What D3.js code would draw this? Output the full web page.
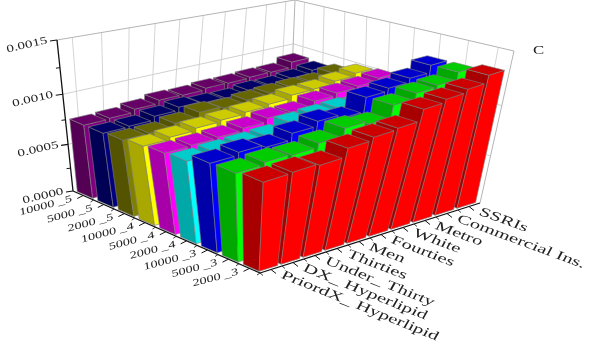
<!DOCTYPE html>
<html><head><meta charset="utf-8">
<script src="https://cdn.jsdelivr.net/npm/d3@7"></script>
<style>html,body{margin:0;padding:0;background:#fff}svg{display:block;filter:blur(.45px)}text{font-family:"Liberation Serif",serif;fill:#222}</style>
</head><body><svg id="c" width="598" height="349"></svg>
<script>
const categories=["PriordX_ Hyperlipid","DX_ Hyperlipid","Under_ Thirty","Thirties","Men","Fourties","White","Metro","Commercial Ins.","SSRIs"];
const seriesNames=["2000 _3","5000 _3","10000 _3","2000 _4","5000 _4","10000 _4","2000 _5","5000 _5","10000 _5"];
const seriesColors=["#ff0000","#00ff00","#0000ff","#00ffff","#ff00ff","#ffff00","#808000","#000080","#800080"];
const zTicks=[0,0.0005,0.0010,0.0015];
const s2000_3=[97.4,98.0,96.2,104.5,107.3,108.6,119.3,122.2,125.3,132.4];
const s5000_3=[94.4,96.7,95.5,99.5,106.5,103.6,114.8,119.9,121.5,128.1];
const s10000_3=[93.3,96.1,93.5,99.7,104.3,100.8,114.3,117.0,120.9,127.8];
const s2000_4=[85.2,86.6,87.3,88.2,94.2,95.6,96.4,95.0,97.0,99.0];
const s5000_4=[83.4,84.2,85.2,87.4,90.8,90.6,95.5,97.7,99.1,101.7];
const s10000_4=[81.1,83.2,85.5,87.0,88.7,90.7,93.9,94.3,96.9,99.7];
const s2000_5=[78.3,78.6,82.1,86.8,84.9,87.1,88.4,88.9,88.6,92.6];
const s5000_5=[76.6,77.3,81.0,84.0,82.2,81.5,84.0,83.5,85.4,88.5];
const s10000_5=[76.3,77.1,80.1,83.3,82.7,84.2,83.8,84.6,84.4,90.1];
const valueUnit=1e-5;
const seriesValues=[s2000_3,s5000_3,s10000_3,s2000_4,s5000_4,s10000_4,s2000_5,s5000_5,s10000_5];

const svg=d3.select("#c");
function quadMap(p0,p1,p2,p3){
  const dx1=p1[0]-p2[0],dx2=p3[0]-p2[0],sx=p0[0]-p1[0]+p2[0]-p3[0];
  const dy1=p1[1]-p2[1],dy2=p3[1]-p2[1],sy=p0[1]-p1[1]+p2[1]-p3[1];
  const den=dx1*dy2-dx2*dy1;
  const g=(sx*dy2-dx2*sy)/den,h=(dx1*sy-sx*dy1)/den;
  const a=p1[0]-p0[0]+g*p1[0],b=p3[0]-p0[0]+h*p3[0],c=p0[0];
  const d=p1[1]-p0[1]+g*p1[1],e=p3[1]-p0[1]+h*p3[1],f=p0[1];
  return (u,v)=>{const w=g*u+h*v+1;return [(a*u+b*v+c)/w,(d*u+e*v+f)/w];};
}
const floorMap=quadMap([260,273],[480,203],[290,122],[73,191]);
const topMap=quadMap([267,131],[514,51],[295,0],[57,40]);
const K=0.1087,A=1/(1-K)-1;
const nU=categories.length,nV=seriesNames.length,zMax=0.0015;
const uS=d3.scaleLinear().domain([0,nU]).range([0,1]);
const vS=d3.scaleLinear().domain([0,nV]).range([0,1]);
const zS=d3.scaleLinear().domain([0,zMax]).range([0,1]);
function proj(i,j,val){
  const f=floorMap(uS(i),vS(j)),t=topMap(uS(i),vS(j));
  const fr=(1/(1-K*zS(val))-1)/A;
  return [f[0]+(t[0]-f[0])*fr,f[1]+(t[1]-f[1])*fr];
}
const line=d3.line();
function seg(g,a,b,col,w){g.append("path").attr("d",line([a,b])).attr("stroke",col).attr("stroke-width",w).attr("fill","none");}
const wall=svg.append("g");
d3.range(nU).forEach(i=>seg(wall,proj(i+.5,nV,0),proj(i+.5,nV,zMax),"#d4d4d4",1));
d3.range(nV).forEach(j=>seg(wall,proj(nU,j+.5,0),proj(nU,j+.5,zMax),"#d4d4d4",1));
zTicks.slice(1,3).forEach(z=>{seg(wall,proj(0,nV,z),proj(nU,nV,z),"#d0d0d0",1);seg(wall,proj(nU,nV,z),proj(nU,0,z),"#d0d0d0",1);});
seg(wall,proj(0,nV,zMax),proj(nU,nV,zMax),"#b4b4b4",1);
seg(wall,proj(nU,nV,zMax),proj(nU,0,zMax),"#b4b4b4",1);
seg(wall,proj(nU,0,0),proj(nU,0,zMax),"#b4b4b4",1);
seg(wall,proj(nU,nV,0),proj(nU,nV,zMax),"#b4b4b4",1);
function shade(c,f){const r=d3.rgb(c);return d3.rgb(r.r*f,r.g*f,r.b*f).formatHex();}
const barsData=[];
d3.range(nV-1,-1,-1).forEach(j=>d3.range(nU-1,-1,-1).forEach(i=>barsData.push({i,j,val:seriesValues[j][i]*valueUnit,col:seriesColors[j]})));
const gapU=.08,gapV=.125;
const bars=svg.append("g").selectAll("g").data(barsData).join("g").attr("stroke","#7d7d7d").attr("stroke-width",.6).attr("stroke-linejoin","round");
const poly=pts=>line(pts)+"Z";
bars.append("path").attr("fill",d=>shade(d.col,.66)).attr("d",d=>{
  const u=d.i+gapU,v0=d.j+gapV,v1=d.j+1-gapV;
  return poly([proj(u,v0,0),proj(u,v1,0),proj(u,v1,d.val),proj(u,v0,d.val)]);});
bars.append("path").attr("fill",d=>d.col).attr("d",d=>{
  const u0=d.i+gapU,u1=d.i+1-gapU,v=d.j+gapV;
  return poly([proj(u0,v,0),proj(u1,v,0),proj(u1,v,d.val),proj(u0,v,d.val)]);});
bars.append("path").attr("fill",d=>shade(d.col,.8)).attr("d",d=>{
  const u0=d.i+gapU,u1=d.i+1-gapU,v0=d.j+gapV,v1=d.j+1-gapV;
  return poly([proj(u0,v0,d.val),proj(u1,v0,d.val),proj(u1,v1,d.val),proj(u0,v1,d.val)]);});
const ax=svg.append("g");
seg(ax,proj(0,nV,0),proj(0,nV,zMax),"#111",1.3);
seg(ax,proj(0,0,0),proj(0,nV,0),"#111",1.3);
seg(ax,proj(0,0,0),proj(nU,0,0),"#111",1.3);
function label(txt,p,deg,sx,size,anchor,shear){
  svg.append("text").text(txt).attr("font-size",size).attr("text-anchor",anchor)
   .attr("transform",`translate(${p[0]},${p[1]}) rotate(${deg}) skewX(${shear||0}) scale(${sx},1)`);
}
zTicks.forEach(z=>{const p=proj(0,nV,z);seg(ax,[p[0]-7,p[1]+1],p,"#111",1.2);
  label(d3.format(".4f")(z),[p[0]-9,p[1]+3],-13,1.45,10.5,"end");});
zTicks.slice(0,3).forEach(z=>{const p=proj(0,nV,z+.00025);seg(ax,[p[0]-4,p[1]+.5],p,"#111",1);});
d3.range(nV).forEach(j=>{const p=proj(0,j+.5,0);seg(ax,p,[p[0]-6,p[1]+3],"#111",1);
  label(seriesNames[j],[p[0]-11,p[1]+6],-15,1.45,10,"end",-8);
  const q=proj(0,j,0);seg(ax,q,[q[0]-3,q[1]+2],"#111",.8);});
const angS=d3.scaleLinear().domain([0,nU-1]).range([22,20]);
d3.range(nU).forEach(i=>{const p=proj(i+.5,0,0);seg(ax,p,[p[0]+5,p[1]+4],"#111",1);
  label(categories[i],[p[0]+9,p[1]+8],angS(i),1.56,13,"start",-8);
  const q=proj(i,0,0);seg(ax,q,[q[0]+3,q[1]+2.5],"#111",.8);});
label("C",[533,54],0,1.4,12,"start");
</script></body></html>
